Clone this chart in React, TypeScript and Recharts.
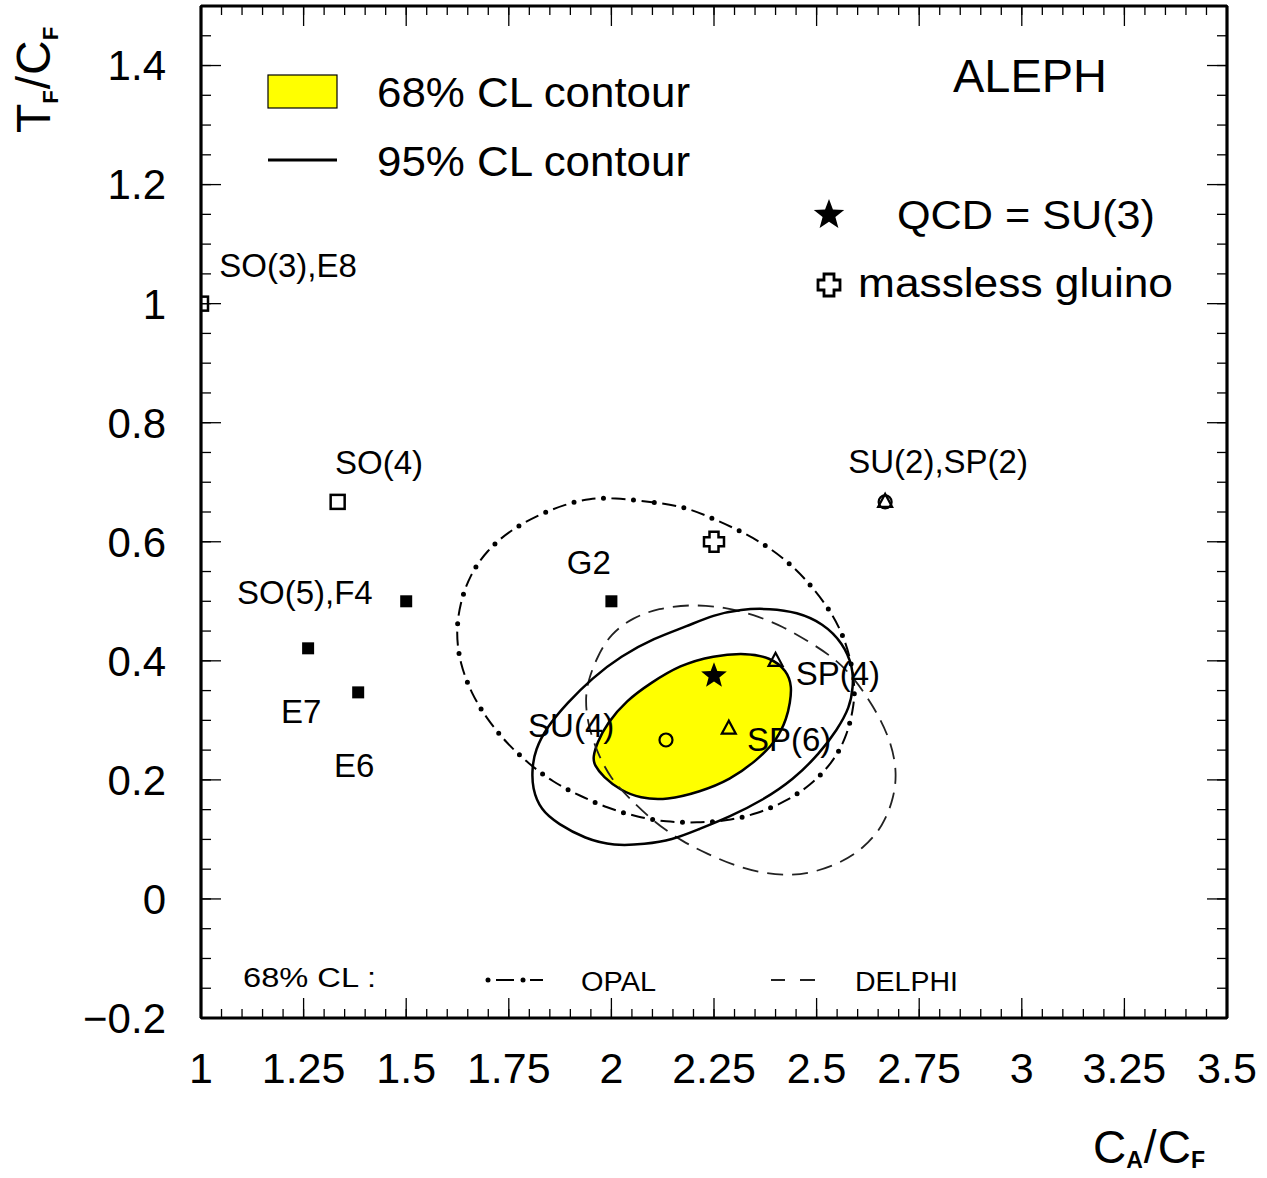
import { ComposedChart, XAxis, YAxis, Scatter } from 'recharts';

const FONT = '"Liberation Sans", Arial, Helvetica, sans-serif';
const W = 1267;
const H = 1178;

// tick values
const xTicks = [1, 1.25, 1.5, 1.75, 2, 2.25, 2.5, 2.75, 3, 3.25, 3.5];
const yTicks = [-0.2, 0, 0.2, 0.4, 0.6, 0.8, 1, 1.2, 1.4];

const steps = (from: number, to: number, step: number) => {
  const out: number[] = [];
  for (let v = from; v <= to + 1e-9; v += step) out.push(Math.round(v * 1000) / 1000);
  return out;
};
const xMinorTicks = steps(1, 3.5, 0.05);
const yMinorTicks = steps(-0.2, 1.5, 0.05);

// ALEPH 68% CL contour (filled)
const aleph68 = [
  { x: 1.955, y: 0.238 }, { x: 1.965, y: 0.262 }, { x: 1.989, y: 0.295 }, { x: 2.038, y: 0.334 },
  { x: 2.094, y: 0.362 }, { x: 2.167, y: 0.393 }, { x: 2.248, y: 0.409 }, { x: 2.33, y: 0.413 },
  { x: 2.386, y: 0.406 }, { x: 2.428, y: 0.384 }, { x: 2.44, y: 0.356 }, { x: 2.435, y: 0.329 },
  { x: 2.428, y: 0.305 }, { x: 2.404, y: 0.267 }, { x: 2.355, y: 0.233 }, { x: 2.289, y: 0.2 },
  { x: 2.216, y: 0.18 }, { x: 2.135, y: 0.166 }, { x: 2.07, y: 0.169 }, { x: 2.021, y: 0.183 },
  { x: 1.98, y: 0.205 }, { x: 1.958, y: 0.225 },
];

// ALEPH 95% CL contour
const aleph95 = [
  { x: 2.386, y: 0.488 }, { x: 2.452, y: 0.482 }, { x: 2.516, y: 0.463 }, { x: 2.564, y: 0.43 },
  { x: 2.589, y: 0.389 }, { x: 2.589, y: 0.356 }, { x: 2.581, y: 0.322 }, { x: 2.55, y: 0.284 },
  { x: 2.508, y: 0.245 }, { x: 2.443, y: 0.2 }, { x: 2.369, y: 0.166 }, { x: 2.289, y: 0.138 },
  { x: 2.209, y: 0.116 }, { x: 2.148, y: 0.099 }, { x: 2.082, y: 0.092 }, { x: 2.006, y: 0.089 },
  { x: 1.936, y: 0.101 }, { x: 1.87, y: 0.126 }, { x: 1.828, y: 0.149 }, { x: 1.807, y: 0.186 },
  { x: 1.807, y: 0.22 }, { x: 1.814, y: 0.25 }, { x: 1.843, y: 0.289 }, { x: 1.892, y: 0.329 },
  { x: 1.953, y: 0.371 }, { x: 2.023, y: 0.408 }, { x: 2.104, y: 0.438 }, { x: 2.184, y: 0.458 },
  { x: 2.248, y: 0.477 }, { x: 2.316, y: 0.487 },
];

// OPAL 68% CL contour
const opal68 = [
  { x: 2.001, y: 0.674 }, { x: 2.111, y: 0.666 }, { x: 2.182, y: 0.658 }, { x: 2.248, y: 0.639 },
  { x: 2.318, y: 0.617 }, { x: 2.382, y: 0.592 }, { x: 2.443, y: 0.559 }, { x: 2.491, y: 0.523 },
  { x: 2.538, y: 0.48 }, { x: 2.569, y: 0.436 }, { x: 2.586, y: 0.393 }, { x: 2.594, y: 0.351 },
  { x: 2.589, y: 0.317 }, { x: 2.572, y: 0.27 }, { x: 2.538, y: 0.228 }, { x: 2.484, y: 0.19 },
  { x: 2.423, y: 0.163 }, { x: 2.355, y: 0.143 }, { x: 2.282, y: 0.131 }, { x: 2.209, y: 0.128 },
  { x: 2.133, y: 0.129 }, { x: 2.062, y: 0.138 }, { x: 1.989, y: 0.153 }, { x: 1.921, y: 0.174 },
  { x: 1.858, y: 0.196 }, { x: 1.797, y: 0.228 }, { x: 1.743, y: 0.263 }, { x: 1.697, y: 0.302 },
  { x: 1.658, y: 0.346 }, { x: 1.631, y: 0.396 }, { x: 1.621, y: 0.446 }, { x: 1.631, y: 0.497 },
  { x: 1.655, y: 0.544 }, { x: 1.697, y: 0.586 }, { x: 1.753, y: 0.619 }, { x: 1.819, y: 0.644 },
  { x: 1.887, y: 0.663 }, { x: 1.948, y: 0.673 },
];

// DELPHI 68% CL contour
const delphi68 = [
  { x: 2.192, y: 0.495 }, { x: 2.277, y: 0.49 }, { x: 2.345, y: 0.478 }, { x: 2.418, y: 0.458 },
  { x: 2.484, y: 0.431 }, { x: 2.54, y: 0.406 }, { x: 2.586, y: 0.376 }, { x: 2.637, y: 0.326 },
  { x: 2.679, y: 0.27 }, { x: 2.696, y: 0.216 }, { x: 2.689, y: 0.171 }, { x: 2.662, y: 0.122 },
  { x: 2.613, y: 0.084 }, { x: 2.557, y: 0.06 }, { x: 2.491, y: 0.044 }, { x: 2.428, y: 0.039 },
  { x: 2.362, y: 0.044 }, { x: 2.296, y: 0.057 }, { x: 2.233, y: 0.076 }, { x: 2.174, y: 0.096 },
  { x: 2.106, y: 0.128 }, { x: 2.045, y: 0.168 }, { x: 1.997, y: 0.203 }, { x: 1.965, y: 0.247 },
  { x: 1.943, y: 0.292 }, { x: 1.936, y: 0.334 }, { x: 1.943, y: 0.367 }, { x: 1.965, y: 0.406 },
  { x: 1.997, y: 0.445 }, { x: 2.053, y: 0.473 }, { x: 2.114, y: 0.488 },
];

// group points (C_A/C_F, T_F/C_F)
const openSquares = [{ x: 1, y: 1 }, { x: 1.333, y: 0.667 }];
const filledSquares = [{ x: 1.5, y: 0.5 }, { x: 2, y: 0.5 }, { x: 1.261, y: 0.421 }, { x: 1.383, y: 0.347 }];
const openCircles = [{ x: 2.133, y: 0.267 }, { x: 2.667, y: 0.667 }];
const openTriangles = [{ x: 2.4, y: 0.4 }, { x: 2.286, y: 0.286 }, { x: 2.667, y: 0.667 }];
const qcdStar = [{ x: 2.25, y: 0.375 }];
const gluinoCross = [{ x: 2.25, y: 0.6 }];

// group names, anchored at text centre
const groupLabels = [
  { x: 1.212, y: 1.064, text: 'SO(3),E8' },
  { x: 1.434, y: 0.733, text: 'SO(4)' },
  { x: 1.253, y: 0.515, text: 'SO(5),F4' },
  { x: 1.244, y: 0.315, text: 'E7' },
  { x: 1.373, y: 0.225, text: 'E6' },
  { x: 1.945, y: 0.565, text: 'G2' },
  { x: 1.902, y: 0.292, text: 'SU(4)' },
  { x: 2.552, y: 0.379, text: 'SP(4)' },
  { x: 2.433, y: 0.267, text: 'SP(6)' },
  { x: 2.796, y: 0.735, text: 'SU(2),SP(2)' },
];

const starPoints = (cx: number, cy: number, r: number) => {
  const pts: string[] = [];
  for (let i = 0; i < 10; i++) {
    const rr = i % 2 === 0 ? r : r * 0.42;
    const a = -Math.PI / 2 + (i * Math.PI) / 5;
    pts.push(`${cx + rr * Math.cos(a)},${cy + rr * Math.sin(a)}`);
  }
  return pts.join(' ');
};

const crossPoints = (cx: number, cy: number, a: number, b: number) =>
  [
    [cx - a, cy - b], [cx + a, cy - b], [cx + a, cy - a], [cx + b, cy - a], [cx + b, cy + a], [cx + a, cy + a],
    [cx + a, cy + b], [cx - a, cy + b], [cx - a, cy + a], [cx - b, cy + a], [cx - b, cy - a], [cx - a, cy - a],
  ].map((p) => p.join(',')).join(' ');

const OpenSquare = ({ cx, cy }: any) => (
  <rect x={cx - 7} y={cy - 7} width={14} height={14} fill="none" stroke="#000" strokeWidth={2.5} />
);
const FilledSquare = ({ cx, cy }: any) => <rect x={cx - 6} y={cy - 6} width={12} height={12} fill="#000" />;
const OpenCircle = ({ cx, cy }: any) => <circle cx={cx} cy={cy} r={6.5} fill="none" stroke="#000" strokeWidth={2.2} />;
const OpenTriangle = ({ cx, cy }: any) => (
  <polygon points={`${cx},${cy - 8} ${cx - 7},${cy + 5} ${cx + 7},${cy + 5}`} fill="none" stroke="#000" strokeWidth={2.2} />
);
const Star = ({ cx, cy }: any) => <polygon points={starPoints(cx, cy, 13.5)} fill="#000" />;
const Cross = ({ cx, cy }: any) => (
  <polygon points={crossPoints(cx, cy, 4.5, 10)} fill="#fff" stroke="#000" strokeWidth={2.5} />
);
const GroupLabel = ({ cx, cy, payload }: any) => (
  <text x={cx} y={cy} textAnchor="middle" dominantBaseline="central" fontSize={33} fontFamily={FONT} fill="#000">
    {payload.text}
  </text>
);
const NoMark = () => <g />;
const NoTick = () => <g />;

const fmtY = (v: number) => (v < 0 ? `\u2212${Math.abs(v)}` : `${v}`);

const frame = { stroke: '#000', strokeWidth: 3.2 };
const tickStroke = { stroke: '#000', strokeWidth: 1.3 };

const Overlay = () => (
  <svg width={W} height={H} style={{ position: 'absolute', left: 0, top: 0, pointerEvents: 'none' }} fontFamily={FONT}>
    {/* contour legend */}
    <rect x={268} y={75} width={69} height={33} fill="#ffff00" stroke="#000" strokeWidth={1.2} />
    <text x={377} y={107} fontSize={43} textLength={313} lengthAdjust="spacingAndGlyphs">68% CL contour</text>
    <line x1={268} x2={337} y1={160} y2={160} stroke="#000" strokeWidth={3} />
    <text x={377} y={176} fontSize={43} textLength={313} lengthAdjust="spacingAndGlyphs">95% CL contour</text>

    <text x={953} y={92} fontSize={46} textLength={154} lengthAdjust="spacingAndGlyphs">ALEPH</text>
    <polygon points={starPoints(829, 215, 16)} fill="#000" />
    <text x={897} y={229} fontSize={40} textLength={258} lengthAdjust="spacingAndGlyphs">QCD = SU(3)</text>
    <polygon points={crossPoints(829, 285, 5, 11)} fill="#fff" stroke="#000" strokeWidth={2.8} />
    <text x={858} y={297} fontSize={40} textLength={315} lengthAdjust="spacingAndGlyphs">massless gluino</text>

    {/* other experiments */}
    <text x={243} y={987} fontSize={27} textLength={133} lengthAdjust="spacingAndGlyphs">68% CL :</text>
    <circle cx={488} cy={980} r={2.5} fill="#000" />
    <line x1={496} x2={514} y1={980} y2={980} stroke="#000" strokeWidth={2} />
    <circle cx={523} cy={980} r={2.5} fill="#000" />
    <line x1={530} x2={543} y1={980} y2={980} stroke="#000" strokeWidth={2} />
    <text x={581} y={991} fontSize={27} textLength={75} lengthAdjust="spacingAndGlyphs">OPAL</text>
    <line x1={771} x2={785} y1={980} y2={980} stroke="#222" strokeWidth={2} />
    <line x1={800} x2={815} y1={980} y2={980} stroke="#222" strokeWidth={2} />
    <text x={855} y={991} fontSize={27} textLength={103} lengthAdjust="spacingAndGlyphs">DELPHI</text>

    {/* axis titles */}
    <text x={1093} y={1163} fontSize={46}>
      C
      <tspan fontSize={23} fontWeight="bold" dy={5}>A</tspan>
      <tspan dy={-5} dx={1}>/</tspan>
      <tspan dx={1}>C</tspan>
      <tspan fontSize={23} fontWeight="bold" dy={5}>F</tspan>
    </text>
    <text transform="translate(50,133) rotate(-90)" fontSize={48}>
      T
      <tspan fontSize={22} fontWeight="bold" dy={8}>F</tspan>
      <tspan dy={-8} dx={1}>/</tspan>
      <tspan dx={1}>C</tspan>
      <tspan fontSize={22} fontWeight="bold" dy={8}>F</tspan>
    </text>
  </svg>
);

const App = () => {
  const ax = { xAxisId: 'b', yAxisId: 'l' };
  return (
    <div style={{ position: 'absolute', left: 0, top: 0, width: W, height: H, background: '#fff' }}>
      <ComposedChart width={W} height={H} margin={{ top: 4, right: 38, bottom: 158, left: 199 }}>
        <XAxis xAxisId="b" orientation="bottom" type="number" dataKey="x" domain={[1, 3.5]} allowDataOverflow
          ticks={xTicks} interval={0} height={1} tickSize={-20} tickMargin={54} axisLine={frame} tickLine={tickStroke}
          tick={{ fontSize: 43, fill: '#000', fontFamily: FONT }} />
        <XAxis xAxisId="bm" orientation="bottom" type="number" dataKey="x" domain={[1, 3.5]} allowDataOverflow
          ticks={xMinorTicks} interval={0} height={1} tickSize={-10} tick={NoTick} axisLine={false} tickLine={tickStroke} />
        <XAxis xAxisId="t" orientation="top" type="number" dataKey="x" domain={[1, 3.5]} allowDataOverflow
          ticks={xTicks} interval={0} height={1} tickSize={-20} tick={NoTick} axisLine={frame} tickLine={tickStroke} />
        <XAxis xAxisId="tm" orientation="top" type="number" dataKey="x" domain={[1, 3.5]} allowDataOverflow
          ticks={xMinorTicks} interval={0} height={1} tickSize={-10} tick={NoTick} axisLine={false} tickLine={tickStroke} />
        <YAxis yAxisId="l" orientation="left" type="number" dataKey="y" domain={[-0.2, 1.5]} allowDataOverflow
          ticks={yTicks} interval={0} width={1} tickSize={-20} tickMargin={55} axisLine={frame} tickLine={tickStroke}
          tickFormatter={fmtY} tick={{ fontSize: 42, fill: '#000', fontFamily: FONT }} />
        <YAxis yAxisId="lm" orientation="left" type="number" dataKey="y" domain={[-0.2, 1.5]} allowDataOverflow
          ticks={yMinorTicks} interval={0} width={1} tickSize={-11} tick={NoTick} axisLine={false} tickLine={tickStroke} />
        <YAxis yAxisId="r" orientation="right" type="number" dataKey="y" domain={[-0.2, 1.5]} allowDataOverflow
          ticks={yTicks} interval={0} width={1} tickSize={-20} tick={NoTick} axisLine={frame} tickLine={tickStroke} />
        <YAxis yAxisId="rm" orientation="right" type="number" dataKey="y" domain={[-0.2, 1.5]} allowDataOverflow
          ticks={yMinorTicks} interval={0} width={1} tickSize={-11} tick={NoTick} axisLine={false} tickLine={tickStroke} />

        <Scatter {...ax} data={aleph68} shape={NoMark} isAnimationActive={false} lineJointType="basisClosed"
          line={{ stroke: '#000', strokeWidth: 2.5, fill: '#ffff00' }} />
        {/* OPAL: dashes and dots drawn as two passes on the same contour */}
        <Scatter {...ax} data={opal68} shape={NoMark} isAnimationActive={false} lineJointType="basisClosed"
          line={{ stroke: '#000', strokeWidth: 2, fill: 'none', strokeDasharray: '0 8 14 8' }} />
        <Scatter {...ax} data={opal68} shape={NoMark} isAnimationActive={false} lineJointType="basisClosed"
          line={{ stroke: '#000', strokeWidth: 5, fill: 'none', strokeDasharray: '0 30', strokeLinecap: 'round' }} />
        <Scatter {...ax} data={delphi68} shape={NoMark} isAnimationActive={false} lineJointType="basisClosed"
          line={{ stroke: '#222', strokeWidth: 1.8, fill: 'none', strokeDasharray: '16 9' }} />
        <Scatter {...ax} data={aleph95} shape={NoMark} isAnimationActive={false} lineJointType="basisClosed"
          line={{ stroke: '#000', strokeWidth: 2.5, fill: 'none' }} />

        <Scatter {...ax} data={openSquares} shape={OpenSquare} isAnimationActive={false} />
        <Scatter {...ax} data={filledSquares} shape={FilledSquare} isAnimationActive={false} />
        <Scatter {...ax} data={openCircles} shape={OpenCircle} isAnimationActive={false} />
        <Scatter {...ax} data={openTriangles} shape={OpenTriangle} isAnimationActive={false} />
        <Scatter {...ax} data={qcdStar} shape={Star} isAnimationActive={false} />
        <Scatter {...ax} data={gluinoCross} shape={Cross} isAnimationActive={false} />
        <Scatter {...ax} data={groupLabels} shape={GroupLabel} isAnimationActive={false} />
      </ComposedChart>
      <Overlay />
    </div>
  );
};

export default App;
